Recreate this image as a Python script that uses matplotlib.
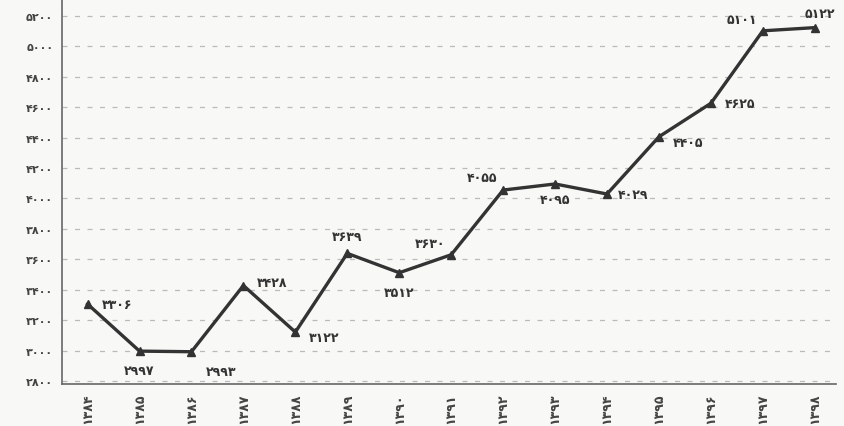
import matplotlib.pyplot as plt

years = list(range(1384, 1399))
values = [3306, 2997, 2993, 3428, 3122, 3639, 3512, 3630, 4055, 4095, 4029, 4405, 4625, 5101, 5122]
yticks = list(range(2800, 5201, 200))

# label offsets in points (dx, dy, ha)
label_pos = [(10, 0, 'left'), (0, -14, 'center'), (10, -14, 'left'), (10, 2, 'left'),
             (10, -4, 'left'), (0, 12, 'center'), (0, -14, 'center'), (-4, 8, 'right'),
             (-4, 9, 'right'), (0, -11, 'center'), (8, 0, 'left'), (10, -4, 'left'),
             (10, 0, 'left'), (-4, 8, 'right'), (4, 10, 'center')]


def fa(n):
    return str(n).translate(str.maketrans('0123456789', '۰۱۲۳۴۵۶۷۸۹'))


fig, ax = plt.subplots(figsize=(8.44, 4.27), dpi=100)
fig.patch.set_facecolor('#f8f8f6')
ax.set_facecolor('#f8f8f6')
fig.subplots_adjust(left=0.073, right=0.99, top=1.0, bottom=0.098)

for y in yticks:
    ax.axhline(y, color='#bbbbbb', lw=0.9, ls=(0, (4, 6)), zorder=0)

ax.plot(years, values, color='#333333', lw=2.4, marker='^', ms=6, zorder=3)

for x, v, (dx, dy, ha) in zip(years, values, label_pos):
    ax.annotate(fa(v), (x, v), xytext=(dx, dy), textcoords='offset points',
                ha=ha, va='center', fontsize=9, fontweight='bold', color='#333333')

ax.set_xlim(1383.5, 1398.4)
ax.set_ylim(2780, 5310)
ax.set_xticks(years)
ax.set_xticklabels([fa(y) for y in years], rotation=90, fontsize=9, fontweight='bold', color='#444444')
ax.set_yticks(yticks)
ax.set_yticklabels([fa(y) for y in yticks], fontsize=8, fontweight='bold', color='#444444')
ax.tick_params(length=0, pad=6)

for s in ['top', 'right']:
    ax.spines[s].set_visible(False)
for s in ['left', 'bottom']:
    ax.spines[s].set_color('#666666')
    ax.spines[s].set_linewidth(1.2)

plt.savefig('out.png', dpi=100, facecolor=fig.get_facecolor())
